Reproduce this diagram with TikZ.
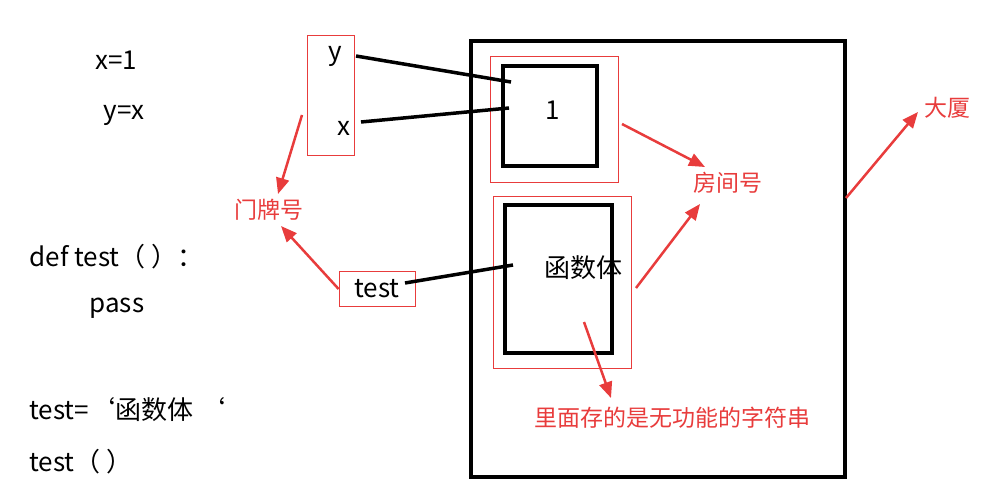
\documentclass[tikz,border=0pt]{standalone}
\usepackage{fontspec}
\setmainfont{Noto Sans CJK SC}
\usetikzlibrary{arrows.meta}
\definecolor{labred}{RGB}{232,60,60}
\tikzset{
  code/.style={anchor=west, font=\fontsize{26}{26}\selectfont},
  redbox/.style={draw=labred, line width=0.8pt},
  blackbox/.style={draw=black, line width=3.5pt},
  redlabel/.style={text=labred, font=\fontsize{23}{23}\selectfont},
  redarrow/.style={draw=labred, line width=2.5pt, -{Triangle[length=16pt,width=13pt]}},
  link/.style={draw=black, line width=3.5pt}
}
\begin{document}
\begin{tikzpicture}[x=1pt, y=-1pt]
  \useasboundingbox (0,0) rectangle (1008,489);

  % code
  \node [code] (c-x) at (92,60) {x=1};
  \node [code] (c-y) at (100,115) {y=x};
  \node [code] (c-def) at (26,257) {def test（ ）：};
  \node [code] (c-pass) at (86,308) {pass};
  \node [code] (c-assign) at (26,410) {test=‘函数体 ‘};
  \node [code] (c-call) at (26,462) {test（ ）};

  % name plates
  \draw [redbox] (307,35) rectangle (354,155);
  \node [code, anchor=center] (n-y) at (335,56) {y};
  \node [code, anchor=center] (n-x) at (344,128) {x};
  \node [redbox, code, anchor=center, minimum width=76pt, minimum height=35pt, inner sep=0pt] (n-test) at (377,289) {test};

  % building and rooms
  \draw [blackbox] (471,41) rectangle (845,477);
  \draw [redbox] (490,56) rectangle (618,182);
  \draw [blackbox] (503,66) rectangle (597,166);
  \node [code, anchor=center] (v-1) at (553,110) {1};
  \draw [redbox] (493,196) rectangle (631,368);
  \draw [blackbox] (505,205) rectangle (612,353);
  \node [code, anchor=center] (v-func) at (583,268) {函数体};

  % links
  \coordinate (r1-a) at (511,82);
  \coordinate (r1-b) at (509,108);
  \coordinate (r2-a) at (513,265);
  \draw [link] (356,56) -- (r1-a);
  \draw [link] (361,122) -- (r1-b);
  \draw [link] (405,283) -- (r2-a);

  % labels
  \node [redlabel] (l-door) at (269,210) {门牌号};
  \node [redlabel] (l-room) at (728,183) {房间号};
  \node [redlabel] (l-bldg) at (947,108) {大厦};
  \node [redlabel] (l-str) at (672,418) {里面存的是无功能的字符串};

  \draw [redarrow] (302,115) -- (278,194);
  \draw [redarrow] (n-test.west) -- (281,226);
  \draw [redarrow] (622,124) -- (705,167);
  \draw [redarrow] (636,288) -- (700,204);
  \draw [redarrow] (846,198) -- (918,112);
  \draw [redarrow] (584,322) -- (611,398);
\end{tikzpicture}
\end{document}
